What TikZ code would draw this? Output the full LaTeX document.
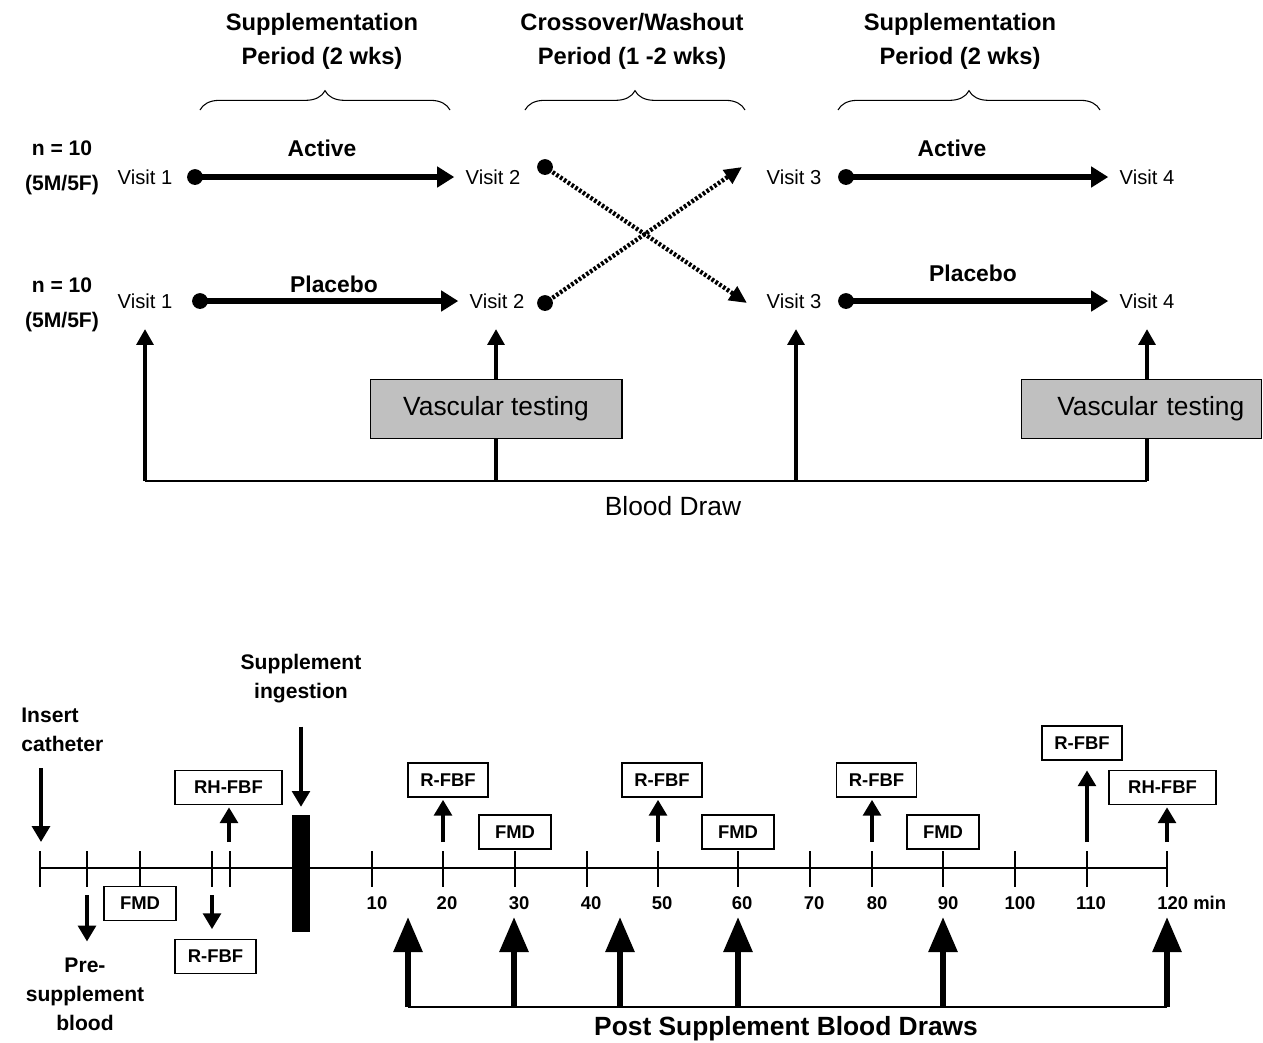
\documentclass[tikz,border=0pt]{standalone}
\usepackage{fontspec}
\setmainfont{Liberation Sans}
\usetikzlibrary{arrows.meta,positioning,decorations.pathreplacing}
\definecolor{boxgray}{RGB}{192,192,192}

\begin{document}
\begin{tikzpicture}[x=0.02cm, y=-0.02cm,
    visit/.style={font=\fontsize{11.5}{13}\selectfont, inner sep=0pt, outer sep=6.5pt},
    period/.style={font=\bfseries\fontsize{13.5}{19.3}\selectfont, align=center, inner sep=0pt},
    grp/.style={font=\bfseries\fontsize{12}{20}\selectfont, align=center, inner sep=0pt},
    arm/.style={font=\bfseries\fontsize{13}{15}\selectfont, inner sep=0pt},
    lbl/.style={font=\bfseries\fontsize{12}{16.5}\selectfont, align=center, inner sep=0pt},
    num/.style={font=\bfseries\fontsize{10.5}{12}\selectfont, inner sep=0pt},
    dot/.style={circle, fill, inner sep=0pt, minimum size=9pt},
    brc/.style={decorate, decoration={brace, amplitude=11pt}, line width=0.6pt},
    treat/.style={line width=3.4pt, -{Triangle[length=9.7pt, width=11.4pt]}},
    cross/.style={line width=2.5pt, dash pattern=on 1.5pt off 1.1pt, -{Triangle[length=10pt, width=9pt]}},
    bdraw/.style={line width=1.8pt, -{Triangle[length=9pt, width=9.7pt]}},
    sarrow/.style={line width=2.2pt, -{Triangle[length=9pt, width=10pt]}},
    bigup/.style={line width=3.4pt, -{Triangle[length=20pt, width=16pt]}},
    vasc/.style={draw, fill=boxgray, line width=0.6pt, minimum height=34.1pt, font=\fontsize{15}{18}\selectfont},
    tag/.style={draw, line width=0.7pt, minimum height=19.4pt, minimum width=45.5pt, inner sep=0pt, font=\bfseries\fontsize{10.5}{12}\selectfont},
    thin/.style={line width=0.7pt}
]
\useasboundingbox (0,0) rectangle (1263,1042);

% study periods
\node [period] (per1) at (322,41) {Supplementation\\Period (2 wks)};
\node [period] (per2) at (632,41) {Crossover/Washout\\Period (1 -2 wks)};
\node [period] (per3) at (960,41) {Supplementation\\Period (2 wks)};
\draw [brc] (200,110) -- (450,110);
\draw [brc] (525,110) -- (745,110);
\draw [brc] (838,110) -- (1100,110);

% groups
\node [grp] (g1) at (62,168) {n = 10\\(5M/5F)};
\node [grp] (g2) at (62,305) {n = 10\\(5M/5F)};

% first row
\node [visit] (v1a) at (145,177) {Visit 1};
\node [dot] (d1a) at (195,177) {};
\node [visit] (v2a) at (493,177) {Visit 2};
\node [arm] (act1) at (322,148) {Active};
\node [visit] (v3a) at (794,177) {Visit 3};
\node [dot] (d3a) at (846,177) {};
\node [visit] (v4a) at (1147,177) {Visit 4};
\node [arm] (act2) at (952,148) {Active};
\draw [treat] (d1a.center) -- (v2a);
\draw [treat] (d3a.center) -- (v4a);

% second row
\node [visit] (v1b) at (145,301) {Visit 1};
\node [dot] (d1b) at (200,301) {};
\node [visit] (v2b) at (497,301) {Visit 2};
\node [arm] (pla1) at (334,284) {Placebo};
\node [visit] (v3b) at (794,301) {Visit 3};
\node [dot] (d3b) at (846,301) {};
\node [visit] (v4b) at (1147,301) {Visit 4};
\node [arm] (pla2) at (973,273) {Placebo};
\draw [treat] (d1b.center) -- (v2b);
\draw [treat] (d3b.center) -- (v4b);

% crossover
\node [dot] (d2a) at (545,167) {};
\node [dot] (d2b) at (545,303) {};
\coordinate (x3a) at (742,167);
\coordinate (x3b) at (747,303);
\draw [cross] (d2a.center) -- (x3b);
\draw [cross] (d2b.center) -- (x3a);

% blood draws
\foreach \v/\x in {v1b/145, v2b/496, v3b/796, v4b/1147} {
    \coordinate (f\v) at (\x,481);
    \draw [bdraw, shorten >=5.3pt] (f\v) -- (f\v |- \v.south);
}
\draw [line width=0.9pt] (fv1b) -- (fv4b);
\node [vasc, minimum width=143.4pt] (vt1) at (496,409) {Vascular testing};
\node [vasc, minimum width=137pt, text width=117pt, align=right] (vt2) at (1141.5,409) {Vascular testing};
\node [font=\fontsize{15}{18}\selectfont, inner sep=0pt] (bd) at (673,506) {Blood Draw};

% timeline
\draw [thin] (40,868) -- (1167,868);
\foreach \x in {40,87,140,212,230,372,443,515,587,658,738,810,872,943,1015,1087,1167}
    \draw [thin] (\x,851) -- (\x,887);
\foreach \x/\t in {377/10,447/20,519/30,591/40,662/50,742/60,814/70,877/80,948/90,1020/100,1091/110}
    \node [num] (n\t) at (\x,903) {\t};
\node [num, anchor=west] (n120) at (1157,903) {120 min};

% measurements
\node [tag, minimum width=61pt] (rh1) at (228.5,787.5) {RH-FBF};
\node [tag, minimum width=41pt] (fmd1) at (140,903.5) {FMD};
\node [tag, minimum width=46pt] (rf1) at (215.5,956.5) {R-FBF};
\node [tag] (rf2) at (448,780) {R-FBF};
\node [tag, minimum width=41pt] (fmd2) at (515,832) {FMD};
\node [tag] (rf3) at (662,780) {R-FBF};
\node [tag, minimum width=41pt] (fmd3) at (738,832) {FMD};
\node [tag] (rf4) at (876.5,780) {R-FBF};
\node [tag, minimum width=41pt] (fmd4) at (943,832) {FMD};
\node [tag] (rf5) at (1082,743) {R-FBF};
\node [tag, minimum width=61pt] (rh2) at (1162.5,787.5) {RH-FBF};

\foreach \x/\b/\g in {229/rh1/1.2pt,443/rf2/1.2pt,658/rf3/1.2pt,872/rf4/1.2pt,1087/rf5/5.5pt,1167/rh2/1.2pt} {
    \coordinate (s\b) at (\x,842);
    \draw [sarrow, shorten >=\g] (s\b) -- (s\b |- \b.south);
}
\coordinate (srf1) at (212,895);
\draw [sarrow, shorten >=5.5pt] (srf1) -- (srf1 |- rf1.north);

% events
\node [lbl, align=left, anchor=west] (cath) at (21,730) {Insert\\catheter};
\coordinate (ct) at (41,842);
\draw [sarrow, shorten <=9pt] (cath.south -| ct) -- (ct);

\node [fill, inner sep=0pt, minimum width=10.2pt, minimum height=66.5pt] (bar) at (301,873.5) {};
\node [lbl] (ing) at (301,679) {Supplement\\ingestion};
\draw [sarrow, shorten <=13pt, shorten >=4.5pt] (ing.south) -- (bar.north);

\node [lbl] (pre) at (85,994) {Pre-\\supplement\\blood};
\coordinate (sp) at (87,895);
\draw [sarrow, shorten >=9pt] (sp) -- (sp |- pre.north);

% post supplement blood draws
\foreach \x [count=\i] in {408,514,620,738,943,1167} {
    \coordinate (pf\i) at (\x,1007);
    \coordinate (pt\i) at (\x,917);
    \draw [bigup] (pf\i) -- (pt\i);
}
\draw [thin] (pf1) -- (pf6);
\node [font=\bfseries\fontsize{15}{18}\selectfont, inner sep=0pt] (post) at (786,1029) {Post Supplement Blood Draws};

\end{tikzpicture}
\end{document}
